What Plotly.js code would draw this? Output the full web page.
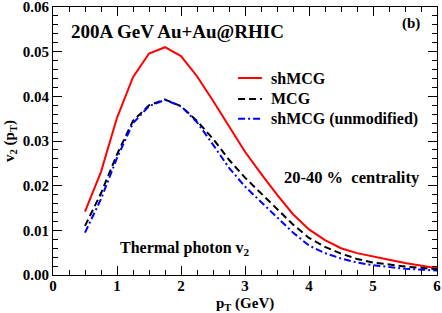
<!DOCTYPE html>
<html><head><meta charset="utf-8">
<script src="https://cdn.plot.ly/plotly-3.0.1.min.js"></script>
<style>body{margin:0;background:#fff}#g{width:442px;height:313px}</style>
</head><body><div id="g"></div>
<script>
const pt = [0.5,0.75,1.0,1.25,1.5,1.75,2.0,2.25,2.5,2.75,3.0,3.25,3.5,3.75,4.0,4.25,4.5,4.75,5.0,5.25,5.5,5.75,6.0];
const shMCG = [0.0142,0.0231,0.0352,0.0443,0.0496,0.0510,0.0490,0.0445,0.0390,0.0332,0.0276,0.0227,0.0180,0.0136,0.0102,0.0078,0.0060,0.0049,0.0041,0.0034,0.0027,0.0021,0.0015];
const MCG = [0.0110,0.0183,0.0270,0.0345,0.0380,0.0393,0.0378,0.0345,0.0305,0.0258,0.0218,0.0183,0.0150,0.0113,0.0083,0.0063,0.0048,0.0036,0.0028,0.0023,0.0019,0.0016,0.0013];
const shMCGu = [0.0095,0.0170,0.0262,0.0340,0.0378,0.0392,0.0378,0.0342,0.0292,0.0240,0.0198,0.0163,0.0128,0.0095,0.0066,0.0049,0.0037,0.0028,0.0022,0.0018,0.0014,0.0012,0.0010];
const names = ["shMCG","MCG","shMCG (unmodified)"];
const yTicks = [0,0.01,0.02,0.03,0.04,0.05,0.06];
const yTickText = ["0.00","0.01","0.02","0.03","0.04","0.05","0.06"];
const F = "Liberation Serif, Times New Roman, serif";
const colors = ["#ff0000","#000000","#0000ff"];
const dashes = ["solid","7px,4px","7px,3px,2px,3px"];
const series = [shMCG, MCG, shMCGu];
const traces = series.map((s,i)=>({x:pt,y:s,name:names[i],mode:"lines",line:{color:colors[i],width:2,dash:dashes[i]}}));
const ax = {showline:true,mirror:"allticks",linecolor:"#000",linewidth:1,ticks:"inside",ticklen:9,tickcolor:"#000",showgrid:false,zeroline:false,
  ticklabeloverflow:"allow",tickfont:{family:F,size:15,weight:"bold",color:"#000"}};
// manual legend (paper coords)
const legY = [0.735, 0.657, 0.583];
const legShapes = legY.map((y,i)=>({type:"line",xref:"paper",yref:"paper",x0:0.482,x1:0.544,y0:y,y1:y,line:{color:colors[i],width:2,dash:dashes[i]}}));
const legText = legY.map((y,i)=>({xref:"paper",yref:"paper",x:0.563,y:y,xanchor:"left",yanchor:"middle",showarrow:false,text:names[i],font:{family:F,size:16,weight:"bold",color:"#000"}}));
const layout = {
  width:442,height:313,margin:{l:53,r:5,t:7,b:38},
  paper_bgcolor:"#fff",plot_bgcolor:"#fff",showlegend:false,
  xaxis:Object.assign({},ax,{range:[0,6],dtick:1,tick0:0,ticklabelstandoff:-3,minor:{ticks:"inside",ticklen:5,tickcolor:"#000",dtick:0.25}}),
  yaxis:Object.assign({},ax,{range:[0,0.06],tickmode:"array",tickvals:yTicks,ticktext:yTickText,minor:{ticks:"inside",ticklen:5,tickcolor:"#000",dtick:0.002,tick0:0},
    title:{text:"v<sub>2</sub> (p<sub>T</sub>)",font:{family:F,size:15,weight:"bold",color:"#000"},standoff:4}}),
  shapes:legShapes,
  annotations:legText.concat([
    {xref:"paper",yref:"paper",x:0.5,y:-0.069,xanchor:"center",yanchor:"top",showarrow:false,text:"p<sub>T</sub> (GeV)",font:{family:F,size:15,weight:"bold",color:"#000"}},
    {xref:"paper",yref:"paper",x:0.042,y:0.91,xanchor:"left",yanchor:"middle",showarrow:false,text:"200A GeV Au+Au@RHIC",font:{family:F,size:19,weight:"bold",color:"#000"}},
    {xref:"paper",yref:"paper",x:0.962,y:0.937,xanchor:"right",yanchor:"middle",showarrow:false,text:"(b)",font:{family:F,size:15,weight:"bold",color:"#000"}},
    {xref:"paper",yref:"paper",x:0.962,y:0.362,xanchor:"right",yanchor:"middle",showarrow:false,text:"20-40 %&nbsp; centrality",font:{family:F,size:16.5,weight:"bold",color:"#000"}},
    {xref:"paper",yref:"paper",x:0.168,y:0.1,xanchor:"left",yanchor:"middle",showarrow:false,text:"Thermal photon v<sub>2</sub>",font:{family:F,size:16,weight:"bold",color:"#000"}}
  ])
};
Plotly.newPlot("g",traces,layout,{displayModeBar:false,staticPlot:true});
</script></body></html>
